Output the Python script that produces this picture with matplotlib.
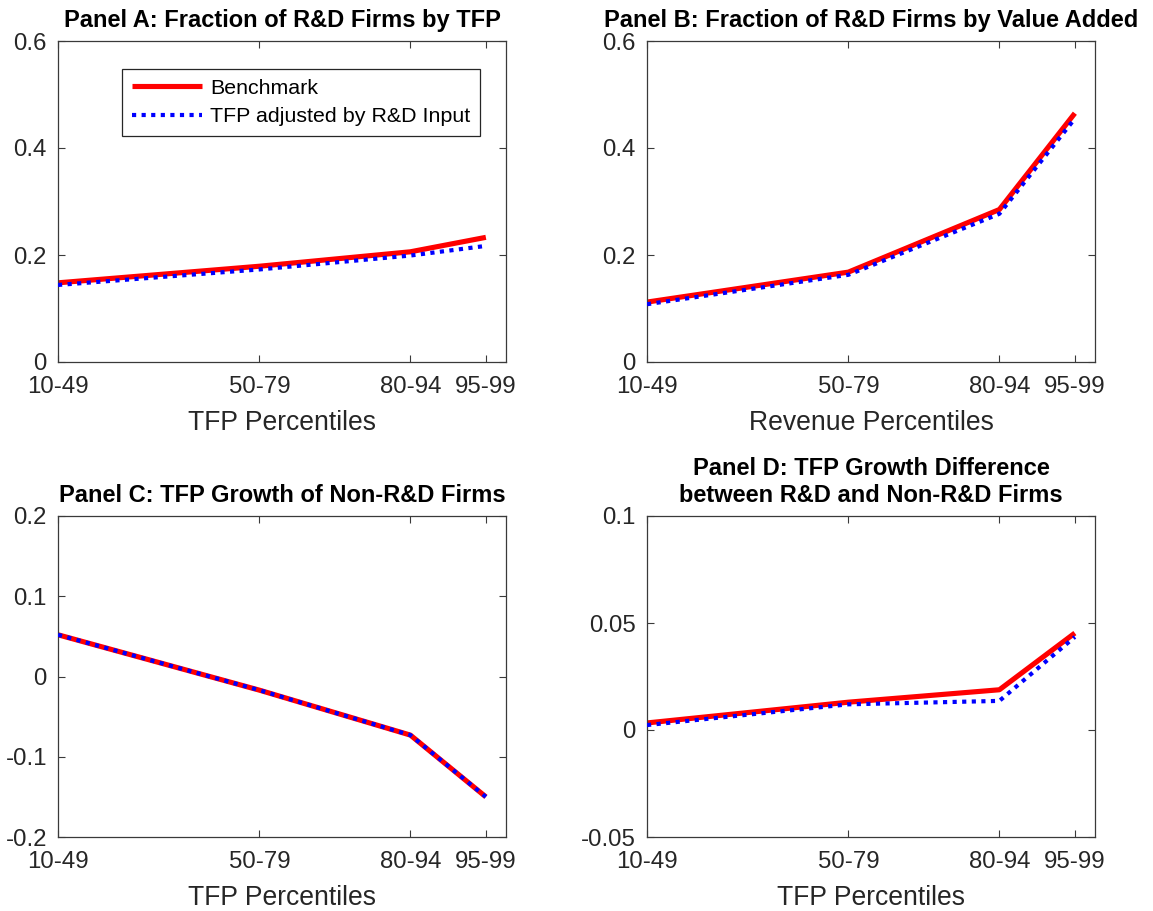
import matplotlib
matplotlib.use("Agg")
import matplotlib.pyplot as plt

plt.rcParams['font.family'] = ['Liberation Sans', 'DejaVu Sans']
plt.rcParams['axes.unicode_minus'] = False

# ---- data ----
x_pos = [10, 50, 80, 95]
x_labels = ['10-49', '50-79', '80-94', '95-99']

a_bench = [0.148, 0.179, 0.206, 0.233]
a_adj = [0.144, 0.173, 0.199, 0.217]

b_bench = [0.112, 0.168, 0.285, 0.465]
b_adj = [0.108, 0.163, 0.277, 0.455]

c_bench = [0.052, -0.017, -0.073, -0.150]
c_adj = [0.052, -0.017, -0.073, -0.150]

d_bench = [0.0033, 0.013, 0.0188, 0.0453]
d_adj = [0.0023, 0.012, 0.0136, 0.0435]

titles = ['Panel A: Fraction of R&D Firms by TFP',
          'Panel B: Fraction of R&D Firms by Value Added',
          'Panel C: TFP Growth of Non-R&D Firms',
          'Panel D: TFP Growth Difference\nbetween R&D and Non-R&D Firms']
xlabels = ['TFP Percentiles', 'Revenue Percentiles', 'TFP Percentiles', 'TFP Percentiles']
yticks_list = [[0, 0.2, 0.4, 0.6], [0, 0.2, 0.4, 0.6],
               [-0.2, -0.1, 0, 0.1, 0.2], [-0.05, 0, 0.05, 0.1]]
ytick_labels = [['0', '0.2', '0.4', '0.6'], ['0', '0.2', '0.4', '0.6'],
                ['-0.2', '-0.1', '0', '0.1', '0.2'], ['-0.05', '0', '0.05', '0.1']]
series_names = ['Benchmark', 'TFP adjusted by R&D Input']

W, H = 1153, 911
fig = plt.figure(figsize=(W / 100, H / 100), dpi=100)

axw = 448 / W
axh = 321 / H
rects = [(58 / W, 1 - 362 / H, axw, axh),
         (647 / W, 1 - 362 / H, axw, axh),
         (58 / W, 1 - 837 / H, axw, axh),
         (647 / W, 1 - 837 / H, axw, axh)]

data = [(a_bench, a_adj), (b_bench, b_adj), (c_bench, c_adj), (d_bench, d_adj)]
axcol = '#262626'
spinecol = '#3a3a3a'

for i, (rect, (bench, adj)) in enumerate(zip(rects, data)):
    ax = fig.add_axes(rect)
    ax.plot(x_pos, bench, color='#ff0000', lw=3.7, solid_capstyle='butt',
            label=series_names[0], zorder=2)
    ax.plot(x_pos, adj, color='#0000ff', lw=3.0, linestyle=(0, (1, 1.3)),
            dash_capstyle='butt', label=series_names[1], zorder=3)
    ax.set_xlim(10, 99)
    yt = yticks_list[i]
    ax.set_ylim(yt[0], yt[-1])
    ax.set_yticks(yt)
    ax.set_yticklabels(ytick_labels[i])
    ax.set_xticks(x_pos)
    ax.set_xticklabels(x_labels)
    ax.tick_params(direction='in', length=5, width=0.8, colors=spinecol,
                   labelcolor=axcol, labelsize=17.3,
                   top=True, right=True)
    ax.tick_params(axis='x', pad=10)
    ax.tick_params(axis='y', pad=8)
    for s in ax.spines.values():
        s.set_color(spinecol)
        s.set_linewidth(0.9)
    ax.set_title(titles[i], fontsize=17, fontweight='bold', color='black',
                 pad=10, linespacing=1.25)
    ax.set_xlabel(xlabels[i], fontsize=19.1, color=axcol, labelpad=9)
    if i == 0:
        leg = ax.legend(loc='upper right', bbox_to_anchor=(0.942, 0.913),
                        fontsize=15.4, handlelength=3.3, handletextpad=0.37,
                        fancybox=False, framealpha=1, edgecolor='#262626',
                        borderpad=0.45, labelspacing=0.45, borderaxespad=0)
        leg.get_frame().set_linewidth(0.9)
        for t in leg.get_texts():
            t.set_color('black')

fig.savefig('out.png', dpi=100)
